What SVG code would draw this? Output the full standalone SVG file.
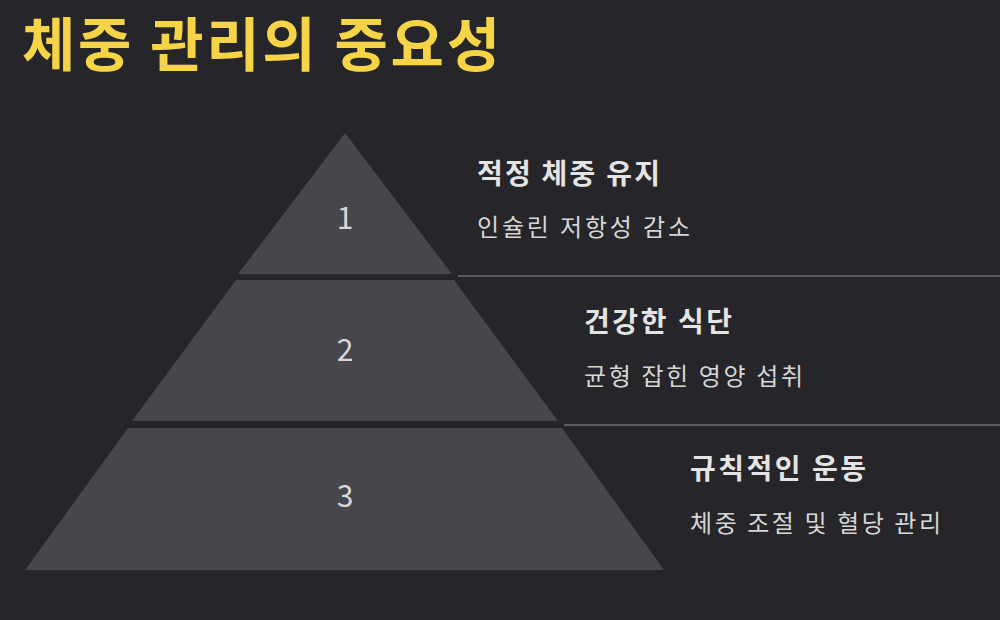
<svg xmlns="http://www.w3.org/2000/svg" width="1000" height="620" viewBox="0 0 1000 620">
<style>
text{font-family:"Noto Sans CJK KR","Noto Sans",sans-serif}
.layer{fill:#47464c}
.num{fill:#d8d8d8;font-size:30px;text-anchor:middle}
.h{fill:#e4e4e4;font-size:28px;font-weight:bold}
.s{fill:#d6d6d6;font-size:24px}
.ln{stroke:#5c5b61;stroke-width:2}
</style>
<rect width="1000" height="620" fill="#262529"/>
<text x="22" y="66" fill="#f5d547" font-size="58" font-weight="bold" textLength="478" lengthAdjust="spacing">체중 관리의 중요성</text>
<g id="connectors">
<line class="ln" x1="458" y1="276" x2="1000" y2="276"/>
<line class="ln" x1="564" y1="425" x2="1000" y2="425"/>
</g>
<g id="layer1">
<polygon class="layer" points="345,133 452,274 238,274"/>
<text class="num" x="345" y="229">1</text>
<text class="h" x="477" y="184" textLength="183" lengthAdjust="spacing">적정 체중 유지</text>
<text class="s" x="477" y="236" textLength="213" lengthAdjust="spacing">인슐린 저항성 감소</text>
</g>
<g id="layer2">
<polygon class="layer" points="236,280 454,280 558,421 132,421"/>
<text class="num" x="345" y="361">2</text>
<text class="h" x="584" y="332" textLength="148" lengthAdjust="spacing">건강한 식단</text>
<text class="s" x="584" y="385" textLength="219" lengthAdjust="spacing">균형 잡힌 영양 섭취</text>
</g>
<g id="layer3">
<polygon class="layer" points="128,428 562,428 664,570 25,570"/>
<text class="num" x="345" y="507">3</text>
<text class="h" x="690" y="479" textLength="176" lengthAdjust="spacing">규칙적인 운동</text>
<text class="s" x="690" y="532" textLength="251" lengthAdjust="spacing">체중 조절 및 혈당 관리</text>
</g>
</svg>
